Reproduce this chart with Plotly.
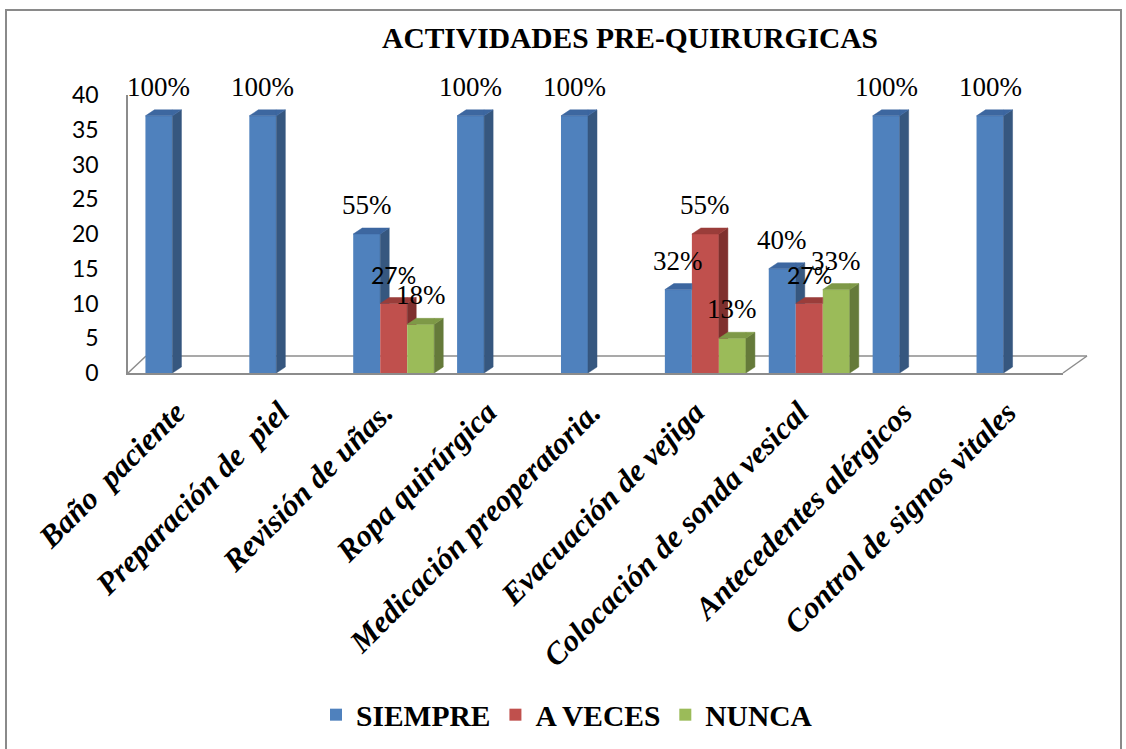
import plotly.graph_objects as go

# ---------------- data ----------------
categories = ["Baño  paciente", "Preparación de  piel", "Revisión de uñas.", "Ropa quirúrgica",
              "Medicación preoperatoria.", "Evacuación de vejiga", "Colocación de sonda vesical",
              "Antecedentes alérgicos", "Control de signos vitales"]
series_names = ["SIEMPRE", "A VECES", "NUNCA"]
siempre = [37, 37, 20, 37, 37, 12, 15, 37, 37]
a_veces = [0, 0, 10, 0, 0, 20, 10, 0, 0]
nunca = [0, 0, 7, 0, 0, 5, 12, 0, 0]
siempre_pct = ["100%", "100%", "55%", "100%", "100%", "32%", "40%", "100%", "100%"]
a_veces_pct = ["", "", "27%", "", "", "55%", "27%", "", ""]
nunca_pct = ["", "", "18%", "", "", "13%", "33%", "", ""]
y_ticks = [0, 5, 10, 15, 20, 25, 30, 35, 40]
title_text = "ACTIVIDADES PRE-QUIRURGICAS"

# ---------------- styling / geometry ----------------
W, H = 1126, 749
PX0, PX1, PY_TOP, PY_BOT = 128, 1063, 95, 373
YMAX = 40
NCAT = len(categories)
ppu_x = (PX1 - PX0) / NCAT
ppu_y = (PY_BOT - PY_TOP) / YMAX
BAR_W = 0.26
DX = 9 / ppu_x
DY = 6 / ppu_y
SHIFT = 6 / ppu_x
TICK_SHIFT = 10 / ppu_x

SERIF = "Liberation Serif"
SANS = "Lato"

front_cols = ["#4F81BD", "#C0504D", "#9BBB59"]
side_cols = ["#36577F", "#7F302E", "#657A3A"]
top_cols = ["#3D67A0", "#9A3D3A", "#7E9947"]
sans_label = [[False] * NCAT, [t == "27%" for t in a_veces_pct], [False] * NCAT]

values = [siempre, a_veces, nunca]
labels = [siempre_pct, a_veces_pct, nunca_pct]


def px(x):
    return (x - PX0) / (PX1 - PX0)


def py(y):
    return (PY_BOT - y) / (PY_BOT - PY_TOP)


def clip_above(poly, h):
    """Keep part of polygon with y >= h (Sutherland-Hodgman)."""
    out = []
    n = len(poly)
    for i in range(n):
        cx, cy = poly[i]
        nx, ny = poly[(i + 1) % n]
        cin, nin = cy >= h, ny >= h
        if cin:
            out.append((cx, cy))
        if cin != nin:
            t = (h - cy) / (ny - cy)
            out.append((cx + t * (nx - cx), h))
    return out


fig = go.Figure()

# front faces (bars)
for k, name in enumerate(series_names):
    xs = [i + (k - 1) * BAR_W for i in range(NCAT)]
    fig.add_trace(go.Bar(x=xs, y=values[k], width=BAR_W, name=name,
                         marker=dict(color=front_cols[k], line=dict(width=0)),
                         hoverinfo="skip"))

# 3D side and top faces computed from data
for k in range(3):
    sx, sy, tx, ty = [], [], [], []
    for i in range(NCAT):
        v = values[k][i]
        if v <= 0:
            continue
        h = values[k + 1][i] if k < 2 else 0
        xc = i + (k - 1) * BAR_W
        xl, xr = xc - BAR_W / 2, xc + BAR_W / 2
        side = [(xr, 0), (xr, v), (xr + DX, v + DY), (xr + DX, DY)]
        if h > 0:
            side = clip_above(side, h)
        polys_top = [[(xl, v), (xr, v), (xr, v + DY), (xl + DX, v + DY)]]
        tri = [(xr, v), (xr + DX, v + DY), (xr, v + DY)]
        if h > 0:
            tri = clip_above(tri, h)
        if len(tri) >= 3:
            polys_top.append(tri)
        if len(side) >= 3:
            for p in side + [side[0]]:
                sx.append(p[0]); sy.append(p[1])
            sx.append(None); sy.append(None)
        for poly in polys_top:
            for p in poly + [poly[0]]:
                tx.append(p[0]); ty.append(p[1])
            tx.append(None); ty.append(None)
    fig.add_trace(go.Scatter(x=sx, y=sy, mode="lines", fill="toself",
                             fillcolor=side_cols[k], line=dict(color=side_cols[k], width=0.5),
                             showlegend=False, hoverinfo="skip"))
    fig.add_trace(go.Scatter(x=tx, y=ty, mode="lines", fill="toself",
                             fillcolor=top_cols[k], line=dict(color=top_cols[k], width=0.5),
                             showlegend=False, hoverinfo="skip"))

# data labels
annotations = []
for k in range(3):
    for i in range(NCAT):
        if not labels[k][i]:
            continue
        xc = i + (k - 1) * BAR_W
        if sans_label[k][i]:
            f = dict(family=SANS, size=23, color="black")
        else:
            f = dict(family=SERIF, size=27, color="black")
        annotations.append(dict(x=xc, y=values[k][i], xref="x", yref="y", text=labels[k][i],
                                showarrow=False, yshift=29, yanchor="middle", font=f))

# floor / frame decorations
grey = "#8c8c8c"
shapes = [
    dict(type="line", xref="paper", yref="paper", x0=px(PX0), y0=py(PY_BOT), x1=px(146), y1=py(356),
         line=dict(color=grey, width=1.5), layer="below"),
    dict(type="line", xref="paper", yref="paper", x0=px(146), y0=py(356), x1=px(1087), y1=py(356),
         line=dict(color=grey, width=1.5), layer="below"),
    dict(type="line", xref="paper", yref="paper", x0=px(PX1), y0=py(PY_BOT), x1=px(1087), y1=py(356),
         line=dict(color=grey, width=1.5), layer="below"),
    dict(type="rect", xref="paper", yref="paper", x0=px(6), y0=py(10), x1=px(1121), y1=py(770),
         line=dict(color="#8a8a8a", width=2), layer="below"),
]

fig.update_layout(
    width=W, height=H,
    paper_bgcolor="white", plot_bgcolor="rgba(0,0,0,0)",
    barmode="overlay",
    margin=dict(l=PX0, r=W - PX1, t=PY_TOP, b=H - PY_BOT, autoexpand=False),
    title=dict(text=title_text, x=630 / W, xref="container", xanchor="center",
               y=1 - 38 / H, yref="container", yanchor="middle",
               font=dict(family=SERIF, size=29.5, color="black", weight="bold")),
    xaxis=dict(range=[-0.5 - SHIFT, NCAT - 0.5 - SHIFT], tickmode="array",
               tickvals=[i - TICK_SHIFT for i in range(NCAT)], ticktext=categories, tickangle=-45,
               tickfont=dict(family=SERIF, size=31, color="black", weight="bold", style="italic"),
               showgrid=False, zeroline=False, showline=True, linecolor=grey, linewidth=1.5,
               ticks="", ticklabelstandoff=7),
    yaxis=dict(range=[0, YMAX], tickmode="array", tickvals=y_ticks,
               tickfont=dict(family=SANS, size=23, color="black"),
               showgrid=False, zeroline=False, showline=True, linecolor=grey, linewidth=1.5,
               ticks="", ticklabelstandoff=23),
    legend=dict(orientation="h", x=px(567), xanchor="center", y=py(715), yanchor="middle",
                font=dict(family=SERIF, size=29.5, color="black", weight="bold"),
                itemwidth=30, bgcolor="rgba(0,0,0,0)", traceorder="normal"),
    annotations=annotations,
    shapes=shapes,
    showlegend=True,
)

fig.write_html("out.html", config={"displayModeBar": False},
               post_script="document.body.style.margin='0px';")
